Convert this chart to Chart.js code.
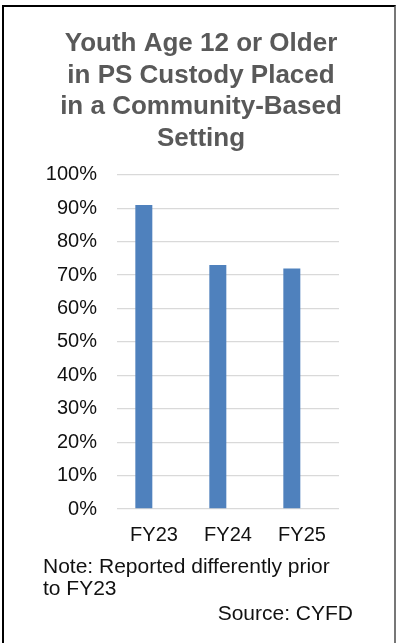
<!DOCTYPE html>
<html>
<head>
<meta charset="utf-8">
<script src="https://cdn.jsdelivr.net/npm/chart.js@4"></script>
<style>
  body { margin: 0; background: #fff; }
  #wrap { position: relative; width: 396px; height: 643px; overflow: hidden; }
  #frame {
    position: absolute; left: 2px; top: 5px; width: 394px; height: 650px;
    box-sizing: border-box;
    border-top: 2px solid #000; border-left: 2px solid #000; border-right: 2px solid #777;
    pointer-events: none;
  }
  .note {
    position: absolute; font-family: "Liberation Sans", Arial, sans-serif;
    font-size: 21px; line-height: 22px; color: #111;
  }
  #noteText { left: 43px; top: 555px; }
  #sourceText { right: 43px; top: 602px; }
</style>
</head>
<body>
<div id="wrap">
  <canvas id="placedChart" width="396" height="643"></canvas>
  <div class="note" id="noteText">Note: Reported differently prior<br>to FY23</div>
  <div class="note" id="sourceText">Source: CYFD</div>
  <div id="frame"></div>
</div>
<script>
const categories = ["FY23", "FY24", "FY25"];
const placedPct = [91, 73, 72];
// second series has no values yet, it only holds its slot in each group
const emptySeries = [null, null, null];
const titleLines = ["Youth Age 12 or Older", "in PS Custody Placed", "in a Community-Based", "Setting"];

Chart.defaults.font.family = "'Liberation Sans', Arial, sans-serif";

const ctx = document.getElementById("placedChart").getContext("2d");
const placedChart = new Chart(ctx, {
  type: "bar",
  data: {
    labels: categories,
    datasets: [
      {
        data: placedPct,
        backgroundColor: "#4F81BD",
        barPercentage: 0.835,
        categoryPercentage: 0.55
      },
      {
        data: emptySeries,
        backgroundColor: "#C0504D",
        barPercentage: 0.835,
        categoryPercentage: 0.55
      }
    ]
  },
  options: {
    responsive: false,
    animation: false,
    layout: { padding: { left: 6, right: 0, top: 0, bottom: 90 } },
    plugins: {
      legend: { display: false },
      tooltip: { enabled: false },
      title: {
        display: true,
        text: titleLines,
        color: "#595959",
        font: { size: 26, weight: "bold", lineHeight: 1.22 },
        padding: { top: 28, bottom: 20 }
      }
    },
    scales: {
      x: {
        grid: { display: false },
        border: { display: false },
        ticks: { color: "#111", font: { size: 20 }, padding: 6 }
      },
      y: {
        min: 0,
        max: 100,
        afterFit: (scale) => { scale.width = 111; },
        grid: { color: "#D9D9D9", lineWidth: 1.3, drawTicks: false },
        border: { display: false },
        ticks: {
          stepSize: 10,
          color: "#111",
          font: { size: 20 },
          padding: 20,
          callback: (v) => v + "%"
        }
      },
      // empty axis on the right, just reserves space so the plot sits left of centre
      spacer: {
        type: "linear",
        position: "right",
        afterFit: (scale) => { scale.width = 57; },
        grid: { display: false },
        border: { display: false },
        ticks: { display: false }
      }
    }
  }
});
</script>
</body>
</html>
